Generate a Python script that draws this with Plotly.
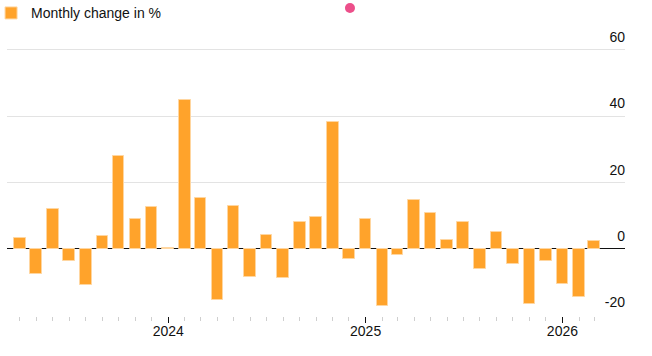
import plotly.graph_objects as go
import pandas as pd

months = pd.date_range("2023-04-01", "2026-03-01", freq="MS").strftime("%Y-%m-%d").tolist()
monthly_change = [
    3.3, -7.5, 12.1, -3.7, -10.9, 4.0, 28.0, 9.0, 12.6,
    0.2, 44.8, 15.3, -15.4, 13.0, -8.4, 4.3, -8.7, 8.1, 9.7, 38.4, -3.1,
    9.0, -17.4, -2.0, 14.7, 10.9, 2.6, 8.1, -6.2, 5.0, -4.5, -16.6, -3.7,
    -10.7, -14.6, 2.2,
]
marker_month = ["2024-12-03"]
marker_level = [72.7]

y_ticks = [-20, 0, 20, 40, 60]
y_tick_labels = ["-20", "0", "20", "40", "60"]
year_ticks = ["2024-01-01", "2025-01-01", "2026-01-01"]
year_labels = ["2024", "2025", "2026"]

FONT = "Liberation Sans, Arial, Helvetica, sans-serif"
DAY_MS = 86400000

fig = go.Figure()
fig.add_trace(go.Bar(
    x=months, y=monthly_change, name="Monthly change in %",
    width=[21.5 * DAY_MS] * len(months),
    marker=dict(color="#FFA32B", line=dict(color="#FFD6A0", width=1)),
))
fig.add_trace(go.Scatter(
    x=marker_month, y=marker_level, mode="markers", showlegend=False,
    marker=dict(color="#EC4F8A", size=10), cliponaxis=False, hoverinfo="skip",
))

fig.update_layout(
    width=652, height=356,
    margin=dict(l=7, r=27, t=0, b=40, autoexpand=False),
    paper_bgcolor="white", plot_bgcolor="white",
    font=dict(family=FONT, size=14, color="#111111"),
    showlegend=True,
    legend=dict(orientation="h", xref="paper", yref="paper", x=-0.0258, y=1.0085,
                xanchor="left", yanchor="top", font=dict(size=14, color="#111111"),
                bgcolor="rgba(0,0,0,0)"),
    bargap=0,
)
fig.update_xaxes(
    type="date", range=["2023-03-08", "2026-04-27"], automargin=False,
    tickmode="array", tickvals=year_ticks, ticktext=year_labels,
    ticks="outside", ticklen=6, tickwidth=1, tickcolor="#111111",
    ticklabelstandoff=-4,
    showgrid=False, showline=False, zeroline=False,
    tickfont=dict(size=14, color="#111111"),
    minor=dict(tickmode="array", tickvals=months, ticks="outside", ticklen=4,
               tickwidth=1, tickcolor="#cfcfcf", showgrid=False),
)
fig.update_yaxes(
    range=[-20.302, 75.09], side="right", automargin=False,
    tickmode="array", tickvals=y_ticks, ticktext=y_tick_labels,
    ticklabelposition="inside top", ticks="", ticklabelshift=-3,
    ticklabelstandoff=-3,
    showgrid=True, gridcolor="#e3e3e3", gridwidth=1.3,
    zeroline=True, zerolinecolor="#111111", zerolinewidth=1,
    showline=False, tickfont=dict(size=14, color="#111111"),
)

fig.write_html("out.html", config={"displayModeBar": False},
               post_script="document.body.style.margin='0';")
